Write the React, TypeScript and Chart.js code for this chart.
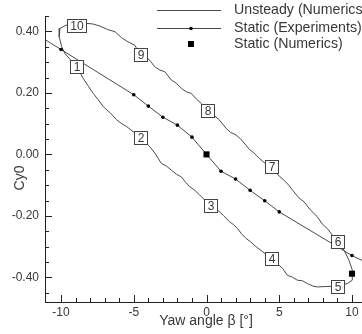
import React, { useEffect, useRef } from 'react';
import { Chart, registerables } from 'chart.js';

Chart.register(...registerables);

// Unsteady (Numerics) hysteresis loop, traced in order
const unsteadyBeta = [
  -8.93, -9.66, -10.07, -10.12, -9.95, -9.73, -9.38,
  -8.93, -8.47, -8.1, -7.78, -7.45, -7.09, -6.6, -6.17, -5.8, -5.48,
  -4.54, -3.9, -3.5, -3.11, -2.75, -2.42, -2.05, -1.73, -1.45, -1.15, -0.8, -0.47,
  0.27, 0.77, 1.15, 1.57, 1.85, 2.14, 2.4, 2.71, 3.05, 3.4,
  4.5, 5.24, 5.55, 5.9, 6.24, 6.6, 6.93, 7.3, 7.62,
  8.97, 9.68, 10.02, 10.02, 9.79, 9.45,
  8.97, 8.3, 7.95, 7.62, 7.15, 6.7, 6.35, 6.01, 5.65, 5.33, 4.9,
  4.47, 4.05, 3.63, 3.18, 2.95, 2.71, 2.35, 2.03, 1.65, 1.34, 0.88,
  0.1, -0.36, -0.7, -1.04, -1.4, -1.73, -2.1, -2.42, -2.87, -3.2, -3.56, -3.85, -4.14,
  -4.57, -4.93, -5.4, -5.85, -6.29, -6.8, -7.32, -7.8, -8.23, -8.93,
];
const unsteadyCy = [
  0.42, 0.42, 0.41, 0.382, 0.35, 0.328, 0.309,
  0.285, 0.247, 0.22, 0.198, 0.178, 0.155, 0.134, 0.112, 0.099, 0.09,
  0.056, 0.025, 0.001, -0.029, -0.038, -0.051, -0.065, -0.073, -0.09, -0.105, -0.117, -0.132,
  -0.167, -0.181, -0.198, -0.219, -0.228, -0.241, -0.258, -0.273, -0.285, -0.3,
  -0.34, -0.371, -0.393, -0.399, -0.409, -0.411, -0.42, -0.428, -0.431,
  -0.428, -0.42, -0.409, -0.376, -0.344, -0.311,
  -0.282, -0.241, -0.226, -0.203, -0.181, -0.154, -0.141, -0.122, -0.1, -0.084, -0.066,
  -0.04, -0.03, -0.013, 0.008, 0.016, 0.03, 0.05, 0.063, 0.072, 0.085, 0.112,
  0.144, 0.166, 0.18, 0.198, 0.204, 0.215, 0.232, 0.242, 0.269, 0.274, 0.285, 0.303, 0.317,
  0.326, 0.355, 0.366, 0.38, 0.399, 0.406, 0.417, 0.424, 0.426, 0.42,
];

// Time-instant labels on the loop
const labelText = ['1', '2', '3', '4', '5', '6', '7', '8', '9', '10'];
const labelBeta = [-8.93, -4.54, 0.27, 4.5, 8.97, 8.97, 4.47, 0.1, -4.57, -8.93];
const labelCy = [0.285, 0.056, -0.167, -0.34, -0.428, -0.282, -0.04, 0.144, 0.326, 0.42];

// Static (Experiments)
const expBeta = [-12, -10, -5, -4, -3, -2, -1, 0, 1, 2, 3, 4, 5, 10, 12];
const expCy = [0.4, 0.341, 0.194, 0.157, 0.121, 0.095, 0.056, 0.0, -0.055, -0.08, -0.117, -0.151, -0.187, -0.329, -0.375];

// Static (Numerics)
const numBeta = [0, 10];
const numCy = [0.0, -0.388];

// Axis ticks
const xMajorTicks = [-10, -5, 0, 5, 10];
const xMinorTicks = [-10, -9, -8, -7, -6, -5, -4, -3, -2, -1, 0, 1, 2, 3, 4, 5, 6, 7, 8, 9, 10, 11];
const yMajorTicks = [-0.4, -0.2, 0, 0.2, 0.4];
const yMinorTicks = [-0.45, -0.4, -0.35, -0.3, -0.25, -0.2, -0.15, -0.1, -0.05, 0, 0.05, 0.1, 0.15, 0.2, 0.25, 0.3, 0.35, 0.4, 0.45];

const legendLabels = ['Unsteady (Numerics)', 'Static (Experiments)', 'Static (Numerics)'];

const FONT = '"Liberation Sans", Arial, Helvetica, sans-serif';
const TEXT = '#383838';
const LINE = '#4a4a4a';

const decorPlugin = {
  id: 'decor',
  afterDraw(chart: any) {
    const { ctx, chartArea } = chart;
    const xs = chart.scales.x;
    const ys = chart.scales.y;
    ctx.save();
    // inward ticks
    ctx.strokeStyle = '#222';
    ctx.lineWidth = 1;
    ctx.beginPath();
    for (const v of xMinorTicks) {
      const px = Math.round(xs.getPixelForValue(v)) + 0.5;
      const len = xMajorTicks.includes(v) ? 7 : 4;
      ctx.moveTo(px, chartArea.bottom);
      ctx.lineTo(px, chartArea.bottom - len);
    }
    for (const v of yMinorTicks) {
      const py = Math.round(ys.getPixelForValue(v)) + 0.5;
      const major = yMajorTicks.some((m) => Math.abs(m - v) < 1e-9);
      const len = major ? 7 : 4;
      ctx.moveTo(chartArea.left, py);
      ctx.lineTo(chartArea.left + len, py);
    }
    ctx.stroke();

    // label boxes
    ctx.font = `12px ${FONT}`;
    ctx.textAlign = 'center';
    ctx.textBaseline = 'middle';
    for (let i = 0; i < labelText.length; i++) {
      const cx = xs.getPixelForValue(labelBeta[i]);
      const cy = ys.getPixelForValue(labelCy[i]);
      const tw = ctx.measureText(labelText[i]).width;
      const w = Math.round(tw + 6);
      const h = 13;
      const bx = Math.round(cx - w / 2) + 0.5;
      const by = Math.round(cy - h / 2) + 0.5;
      ctx.fillStyle = '#fff';
      ctx.fillRect(bx, by, w, h);
      ctx.strokeStyle = '#444';
      ctx.strokeRect(bx, by, w, h);
      ctx.fillStyle = TEXT;
      ctx.fillText(labelText[i], bx + w / 2, by + h / 2 + 0.5);
    }

    // legend
    ctx.strokeStyle = LINE;
    ctx.lineWidth = 1;
    ctx.beginPath();
    ctx.moveTo(157, 10.5);
    ctx.lineTo(221, 10.5);
    ctx.moveTo(157, 28.5);
    ctx.lineTo(221, 28.5);
    ctx.stroke();
    ctx.fillStyle = '#000';
    ctx.beginPath();
    ctx.arc(191, 28.5, 1.8, 0, Math.PI * 2);
    ctx.fill();
    ctx.fillRect(188, 41, 6, 6);
    ctx.font = `14.2px ${FONT}`;
    ctx.textAlign = 'left';
    ctx.fillStyle = TEXT;
    ctx.fillText(legendLabels[0], 234, 10.5);
    ctx.fillText(legendLabels[1], 234, 28.5);
    ctx.fillText(legendLabels[2], 234, 44.5);

    // axis titles
    ctx.font = `14px ${FONT}`;
    ctx.textAlign = 'center';
    ctx.fillText('Yaw angle β [°]', 206, 321);
    ctx.save();
    ctx.translate(20, 178);
    ctx.rotate(-Math.PI / 2);
    ctx.fillText('Cy0', 0, 0);
    ctx.restore();
    ctx.restore();
  },
};

export default function App() {
  const ref = useRef<HTMLCanvasElement | null>(null);
  useEffect(() => {
    if (!ref.current) return;
    const chart = new Chart(ref.current, {
      type: 'scatter',
      data: {
        datasets: [
          {
            label: 'Static (Numerics)',
            data: numBeta.map((b, i) => ({ x: b, y: numCy[i] })),
            showLine: false,
            pointStyle: 'rect',
            pointRadius: 4.3,
            backgroundColor: '#000',
            borderColor: '#000',
            borderWidth: 0,
          },
          {
            label: 'Static (Experiments)',
            data: expBeta.map((b, i) => ({ x: b, y: expCy[i] })),
            showLine: true,
            borderColor: LINE,
            borderWidth: 1,
            pointRadius: 1.8,
            pointBackgroundColor: '#000',
            pointBorderWidth: 0,
          },
          {
            label: 'Unsteady (Numerics)',
            data: unsteadyBeta.map((b, i) => ({ x: b, y: unsteadyCy[i] })),
            showLine: true,
            borderColor: LINE,
            borderWidth: 1,
            pointRadius: 0,
            tension: 0,
          },
        ],
      },
      options: {
        animation: false,
        responsive: false,
        events: [],
        layout: { padding: { top: 16, right: 12, left: 0, bottom: 0 } },
        plugins: { legend: { display: false }, tooltip: { enabled: false } },
        scales: {
          x: {
            type: 'linear',
            min: -11.1,
            max: 11.1,
            grid: { display: false, drawTicks: false },
            border: { display: true, color: '#222', width: 1 },
            ticks: {
              color: TEXT,
              font: { family: FONT, size: 12 },
              padding: 3,
              maxRotation: 0,
              callback: (v: any) => String(v),
            },
            afterBuildTicks: (s: any) => {
              s.ticks = xMajorTicks.map((v) => ({ value: v }));
            },
            afterFit: (s: any) => {
              s.height = 32;
            },
          },
          y: {
            type: 'linear',
            min: -0.48,
            max: 0.45,
            grid: { display: false, drawTicks: false },
            border: { display: true, color: '#222', width: 1 },
            ticks: {
              color: TEXT,
              font: { family: FONT, size: 12 },
              padding: 6,
              callback: (v: any) => Number(v).toFixed(2),
            },
            afterBuildTicks: (s: any) => {
              s.ticks = yMajorTicks.map((v) => ({ value: v }));
            },
            afterFit: (s: any) => {
              s.width = 45;
            },
          },
        },
      },
      plugins: [decorPlugin],
    });
    return () => chart.destroy();
  }, []);
  return (
    <div style={{ position: 'absolute', left: 0, top: 0, width: 362, height: 334, overflow: 'hidden', background: '#fff' }}>
      <canvas ref={ref} width={380} height={334} style={{ width: 380, height: 334, display: 'block' }} />
    </div>
  );
}
